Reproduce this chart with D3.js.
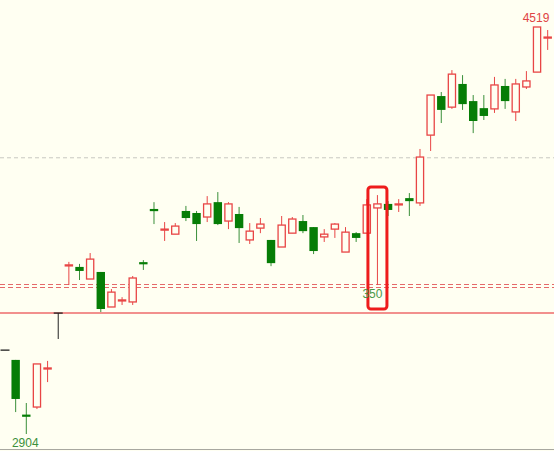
<!DOCTYPE html>
<html><head><meta charset="utf-8">
<script src="https://cdn.jsdelivr.net/npm/d3@7"></script>
<style>html,body{margin:0;padding:0;background:#fffff2;overflow:hidden}</style>
</head><body><svg id="c" width="554" height="451"></svg>
<script>
// ---- data ----
const open  = [3237,3198,2981,3011,3162,3384,3571,3567,3519,3547,
               3408,3432,3428,3586,3797,3713,3697,3789,3781,3765,
               3824,3749,3777,3674,3721,3674,3646,3701,3749,3725,
               3686,3717,3626,3701,3701,3801,3817,3813,3840,3821,
               4090,4245,4201,4293,4225,4197,4194,4285,4182,4281,
               4340,4475];
const close = [3237,3043,2973,3182,3166,3384,3575,3551,3598,3400,
               3467,3436,3523,3578,3793,3717,3729,3761,3737,3817,
               3737,3817,3721,3709,3737,3582,3733,3757,3709,3630,
               3697,3737,3705,3682,3813,3817,3793,3817,3828,4003,
               4249,4190,4332,4213,4146,4166,4289,4225,4293,4305,
               4519,4479];
const high  = [3237,3198,3027,3182,3194,3384,3587,3579,3622,3547,
               3479,3447,3531,3594,3824,3745,3741,3809,3789,3848,
               3864,3824,3805,3741,3761,3674,3769,3765,3773,3725,
               3717,3741,3725,3705,3836,3852,3828,3836,3860,4035,
               4249,4261,4348,4328,4249,4249,4321,4313,4313,4344,
               4519,4507];
const low   = [3237,2991,2904,3003,3110,3281,3495,3515,3519,3388,
               3408,3416,3416,3555,3737,3670,3697,3749,3670,3745,
               3733,3717,3662,3658,3701,3570,3646,3701,3701,3618,
               3666,3682,3626,3666,3701,3495,3769,3785,3769,3809,
               4027,4138,4194,4190,4098,4150,4178,4194,4146,4273,
               4340,4428];
const categories = open.map((_, i) => i);
const grayLevel = 4000;          // grey dashed line
const dashedLevels = [3501, 3489]; // red dashed double line
const solidLevel = 3384;         // red solid line
const boxIndex = 35, boxHigh = 3884, boxLow = 3400;
const labels = [
  {i: 2, text: "2904", pos: "below", color: "#3b8f3b", dx: -1},
  {i: 50, text: "4519", pos: "above", color: "#e04444", dx: -1},
  {i: 35, text: "350", pos: "below", color: "#4a9a4a", dx: -5}
];

// ---- drawing ----
const W = 554, H = 451, BG = "#fffff2";
const RED = "#e84545", GREEN = "#067d06", GREEN_WICK = "#3a8f3a", BLACK = "#222";
const svg = d3.select("#c");
svg.append("rect").attr("width", W).attr("height", H).attr("fill", BG);

const x = d3.scaleBand().domain(categories).range([-0.3, 553]);
const y = d3.scaleLinear().domain([2904, 4519]).range([434, 27]);
const cx = i => x(i) + x.bandwidth() / 2;

// reference lines
svg.append("line").attr("x1", 0).attr("x2", W)
  .attr("y1", y(grayLevel)).attr("y2", y(grayLevel))
  .attr("stroke", "#c8c8c0").attr("stroke-width", 1).attr("stroke-dasharray", "4,3");
dashedLevels.forEach(v => {
  svg.append("line").attr("x1", 0).attr("x2", W)
    .attr("y1", Math.round(y(v)) + 0.5).attr("y2", Math.round(y(v)) + 0.5)
    .attr("stroke", "#e46a6a").attr("stroke-width", 1).attr("stroke-dasharray", "5,3");
});
svg.append("line").attr("x1", 0).attr("x2", W)
  .attr("y1", y(solidLevel)).attr("y2", y(solidLevel))
  .attr("stroke", "#ee6b6b").attr("stroke-width", 1.5);
// bottom border
svg.append("line").attr("x1", 0).attr("x2", W).attr("y1", 449.5).attr("y2", 449.5)
  .attr("stroke", "#a8a8a0").attr("stroke-width", 1);

// candles
const g = svg.append("g");
categories.forEach(i => {
  const o = open[i], c = close[i], h = high[i], l = low[i];
  const xc = cx(i);
  const top = y(Math.max(o, c)), bot = y(Math.min(o, c));
  if (c > o) {
    g.append("line").attr("x1", xc).attr("x2", xc).attr("y1", y(h)).attr("y2", y(l))
      .attr("stroke", RED).attr("stroke-width", 1);
    g.append("rect").attr("x", xc - 3.6).attr("width", 7.2)
      .attr("y", top).attr("height", Math.max(bot - top, 1))
      .attr("fill", BG).attr("stroke", RED).attr("stroke-width", 1.3);
  } else if (c < o) {
    g.append("line").attr("x1", xc).attr("x2", xc).attr("y1", y(h)).attr("y2", y(l))
      .attr("stroke", GREEN_WICK).attr("stroke-width", 1);
    g.append("rect").attr("x", xc - 4.2).attr("width", 8.4)
      .attr("y", top).attr("height", Math.max(bot - top, 2.2))
      .attr("fill", GREEN);
  } else {
    g.append("line").attr("x1", xc).attr("x2", xc).attr("y1", y(h)).attr("y2", y(l))
      .attr("stroke", BLACK).attr("stroke-width", 1);
    g.append("rect").attr("x", xc - 4.5).attr("width", 9)
      .attr("y", top - 0.6).attr("height", 1.3).attr("fill", BLACK);
  }
});

// highlight box
svg.append("rect")
  .attr("x", cx(boxIndex) - 9.5).attr("width", 19)
  .attr("y", y(boxHigh)).attr("height", y(boxLow) - y(boxHigh))
  .attr("rx", 3).attr("fill", "none").attr("stroke", "#ee1c1c").attr("stroke-width", 3);

// labels
labels.forEach(d => {
  const v = d.pos === "below" ? low[d.i] : high[d.i];
  svg.append("text")
    .attr("x", cx(d.i) + d.dx)
    .attr("y", d.pos === "below" ? y(v) + 13 : y(v) - 5)
    .attr("text-anchor", "middle")
    .attr("font-family", "'Liberation Sans', Arial, sans-serif")
    .attr("font-size", 12)
    .attr("fill", d.color)
    .text(d.text);
});
</script></body></html>
